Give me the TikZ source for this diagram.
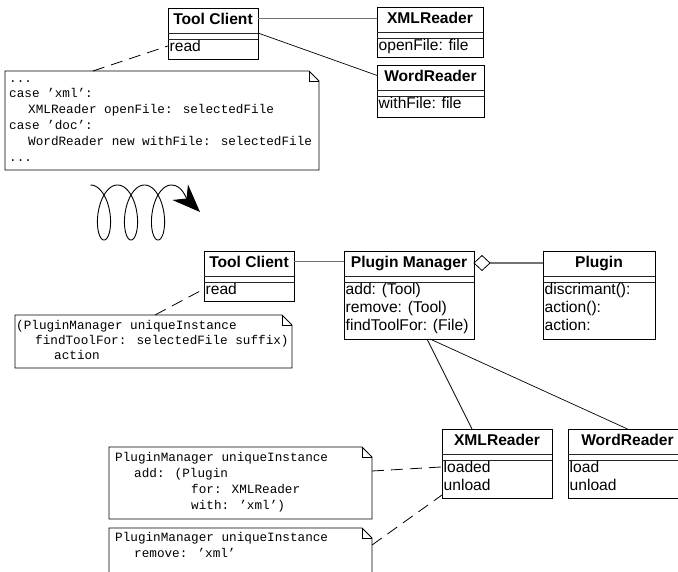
\documentclass[tikz,border=0pt]{standalone}
\usepackage{fontspec}
\setmainfont{Liberation Sans}
\newfontfamily\monof{Liberation Mono}
\usetikzlibrary{calc,arrows.meta,shapes.geometric}
\newcommand\umlbox[7]{%
  \node[cls, minimum width={(#4)-(#2)}, minimum height={(#5)-(#3)}] (#1) at (#2,#3) {};
  \draw[cline] ($(#1.north west)+(0,25)$) -- ($(#1.north east)+(0,25)$);
  \draw[cline] ($(#1.north west)+(0,31.5)$) -- ($(#1.north east)+(0,31.5)$);
  \node[ttl, anchor=base] (#1t) at ($(#1.north)+(0,16)$) {#6};
  \foreach \opx [count=\i] in {#7} {\node[op, anchor=base west] (#1o\i) at ($(#1.north west)+(1.5,{43.5+18*(\i-1)})$) {\opx};}
}
\newcommand\umlnote[5]{%
  \node[notebg, minimum width={(#4)-(#2)}, minimum height={(#5)-(#3)}] (#1) at (#2,#3) {};
  \draw[noteline] (#1.north west) -- ($(#1.north east)+(-10,0)$) -- ($(#1.north east)+(0,10)$) -- (#1.south east) -- (#1.south west) -- cycle;
  \draw[noteline] ($(#1.north east)+(-10,0)$) -- ($(#1.north east)+(-10,10)$) -- ($(#1.north east)+(0,10)$);
}
\begin{document}
\begin{tikzpicture}[x=1pt,y=-1pt,
  cls/.style={draw=black, line width=0.9pt, rectangle, inner sep=0pt, outer sep=0pt, anchor=north west},
  cline/.style={line width=0.8pt, draw=black!85},
  ttl/.style={font=\fontsize{15.6}{18}\selectfont\bfseries, inner sep=0pt},
  op/.style={font=\fontsize{15.6}{18}\selectfont, inner sep=0pt},
  code/.style={font=\monof\fontsize{12.67}{15.8}\selectfont, inner sep=0pt, anchor=base west},
  notebg/.style={rectangle, inner sep=0pt, outer sep=0pt, anchor=north west},
  noteline/.style={draw=black, line width=0.8pt},
  assoc/.style={draw=black!55, line width=1.3pt},
  link/.style={draw=black, line width=0.7pt},
  dep/.style={draw=black, line width=0.8pt, dash pattern=on 12pt off 7pt},
]
\useasboundingbox (0,0) rectangle (678,571);
\clip (0,0) rectangle (678,571);

% ---------- top diagram ----------
\umlbox{tcA}{168}{8}{258}{59}{Tool Client}{read}
\umlbox{xmlA}{377}{7}{483}{57}{XMLReader}{openFile: file}
\umlbox{wordA}{377}{65}{484}{117}{WordReader}{withFile: file}
\draw[assoc] (tcA.east |- tcAt) -- (xmlA.west |- tcAt);
\draw[link] ($(tcA.north east)+(0,25)$) -- (wordA.west |- wordAt);

\umlnote{noteA}{5}{71}{319}{170}
\node[code] (nA1) at ($(noteA.north west)+(4,11)$) {...};
\node[code] (nA2) at ($(noteA.north west)+(4,26.8)$) {case ’xml’:};
\node[code] (nA3) at ($(noteA.north west)+(23,42.6)$) {XMLReader openFile: selectedFile};
\node[code] (nA4) at ($(noteA.north west)+(4,58.4)$) {case ’doc’:};
\node[code] (nA5) at ($(noteA.north west)+(23,74.2)$) {WordReader new withFile: selectedFile};
\node[code] (nA6) at ($(noteA.north west)+(4,90)$) {...};
\draw[dep] ($(noteA.north west)+(88,0)$) -- (tcA.west |- tcAo1);

% ---------- spiral arrow ----------
\draw[line width=0.9pt, -{Stealth[length=28pt, width=22pt, inset=9pt]}]
  plot[domain=-180:900, samples=241, variable=\t] ({104 + 0.07505*\t - 12.6*sin(\t)}, {212.5 + 27.5*cos(\t)})
  .. controls (182,185) and (186,198) .. (200,212);

% ---------- bottom diagram ----------
\umlbox{tcB}{204}{251}{294}{301}{Tool Client}{read}
\umlbox{pm}{344}{251}{474}{339}{Plugin Manager}{add: (Tool), remove: (Tool), findToolFor: (File)}
\umlbox{plug}{543}{251}{655}{339}{Plugin}{discrimant():, action():, action:}
\umlbox{xmlB}{442}{429}{552}{498}{XMLReader}{loaded, unload}
\umlbox{wordB}{568}{429}{687}{498}{WordReader}{load, unload}

\draw[assoc] (tcB.east |- tcBt) -- (pm.west |- tcBt);
\node[diamond, draw=black, line width=0.8pt, fill=white, minimum width=16pt, minimum height=15pt,
      inner sep=0pt, outer sep=0pt, anchor=west] (agg) at (pm.east |- pmt) {};
\draw[assoc] (agg.east) -- (plug.west |- agg.east);
\draw[link] ($(pm.south)+(18,0)$) -- ($(xmlB.north)+(-25,0)$);
\draw[link] ($(pm.south)+(21,0)$) -- (wordB.north);

\umlnote{noteB}{15}{315}{292}{368}
\node[code] (nB1) at ($(noteB.north west)+(1,14)$) {(PluginManager uniqueInstance};
\node[code] (nB2) at ($(noteB.north west)+(20,29)$) {findToolFor: selectedFile suffix)};
\node[code] (nB3) at ($(noteB.north west)+(39,44)$) {action};
\draw[dep] ($(noteB.north west)+(140,0)$) -- (tcB.west |- tcBo1);

\umlnote{noteC}{109}{447}{372}{519}
\node[code] (nC1) at ($(noteC.north west)+(6,14)$) {PluginManager uniqueInstance};
\node[code] (nC2) at ($(noteC.north west)+(25,30)$) {add: (Plugin};
\node[code] (nC3) at ($(noteC.north west)+(82,46)$) {for: XMLReader};
\node[code] (nC4) at ($(noteC.north west)+(82,62)$) {with: ’xml’)};
\draw[dep] ($(noteC.north east)+(0,24)$) -- (xmlB.west |- xmlBo1);

\umlnote{noteD}{109}{528}{372}{600}
\node[code] (nD1) at ($(noteD.north west)+(6,13)$) {PluginManager uniqueInstance};
\node[code] (nD2) at ($(noteD.north west)+(25,29)$) {remove: ’xml’};
\draw[dep] ($(noteD.north east)+(0,17)$) -- ($(xmlB.south west)+(0,-3)$);
\end{tikzpicture}
\end{document}
